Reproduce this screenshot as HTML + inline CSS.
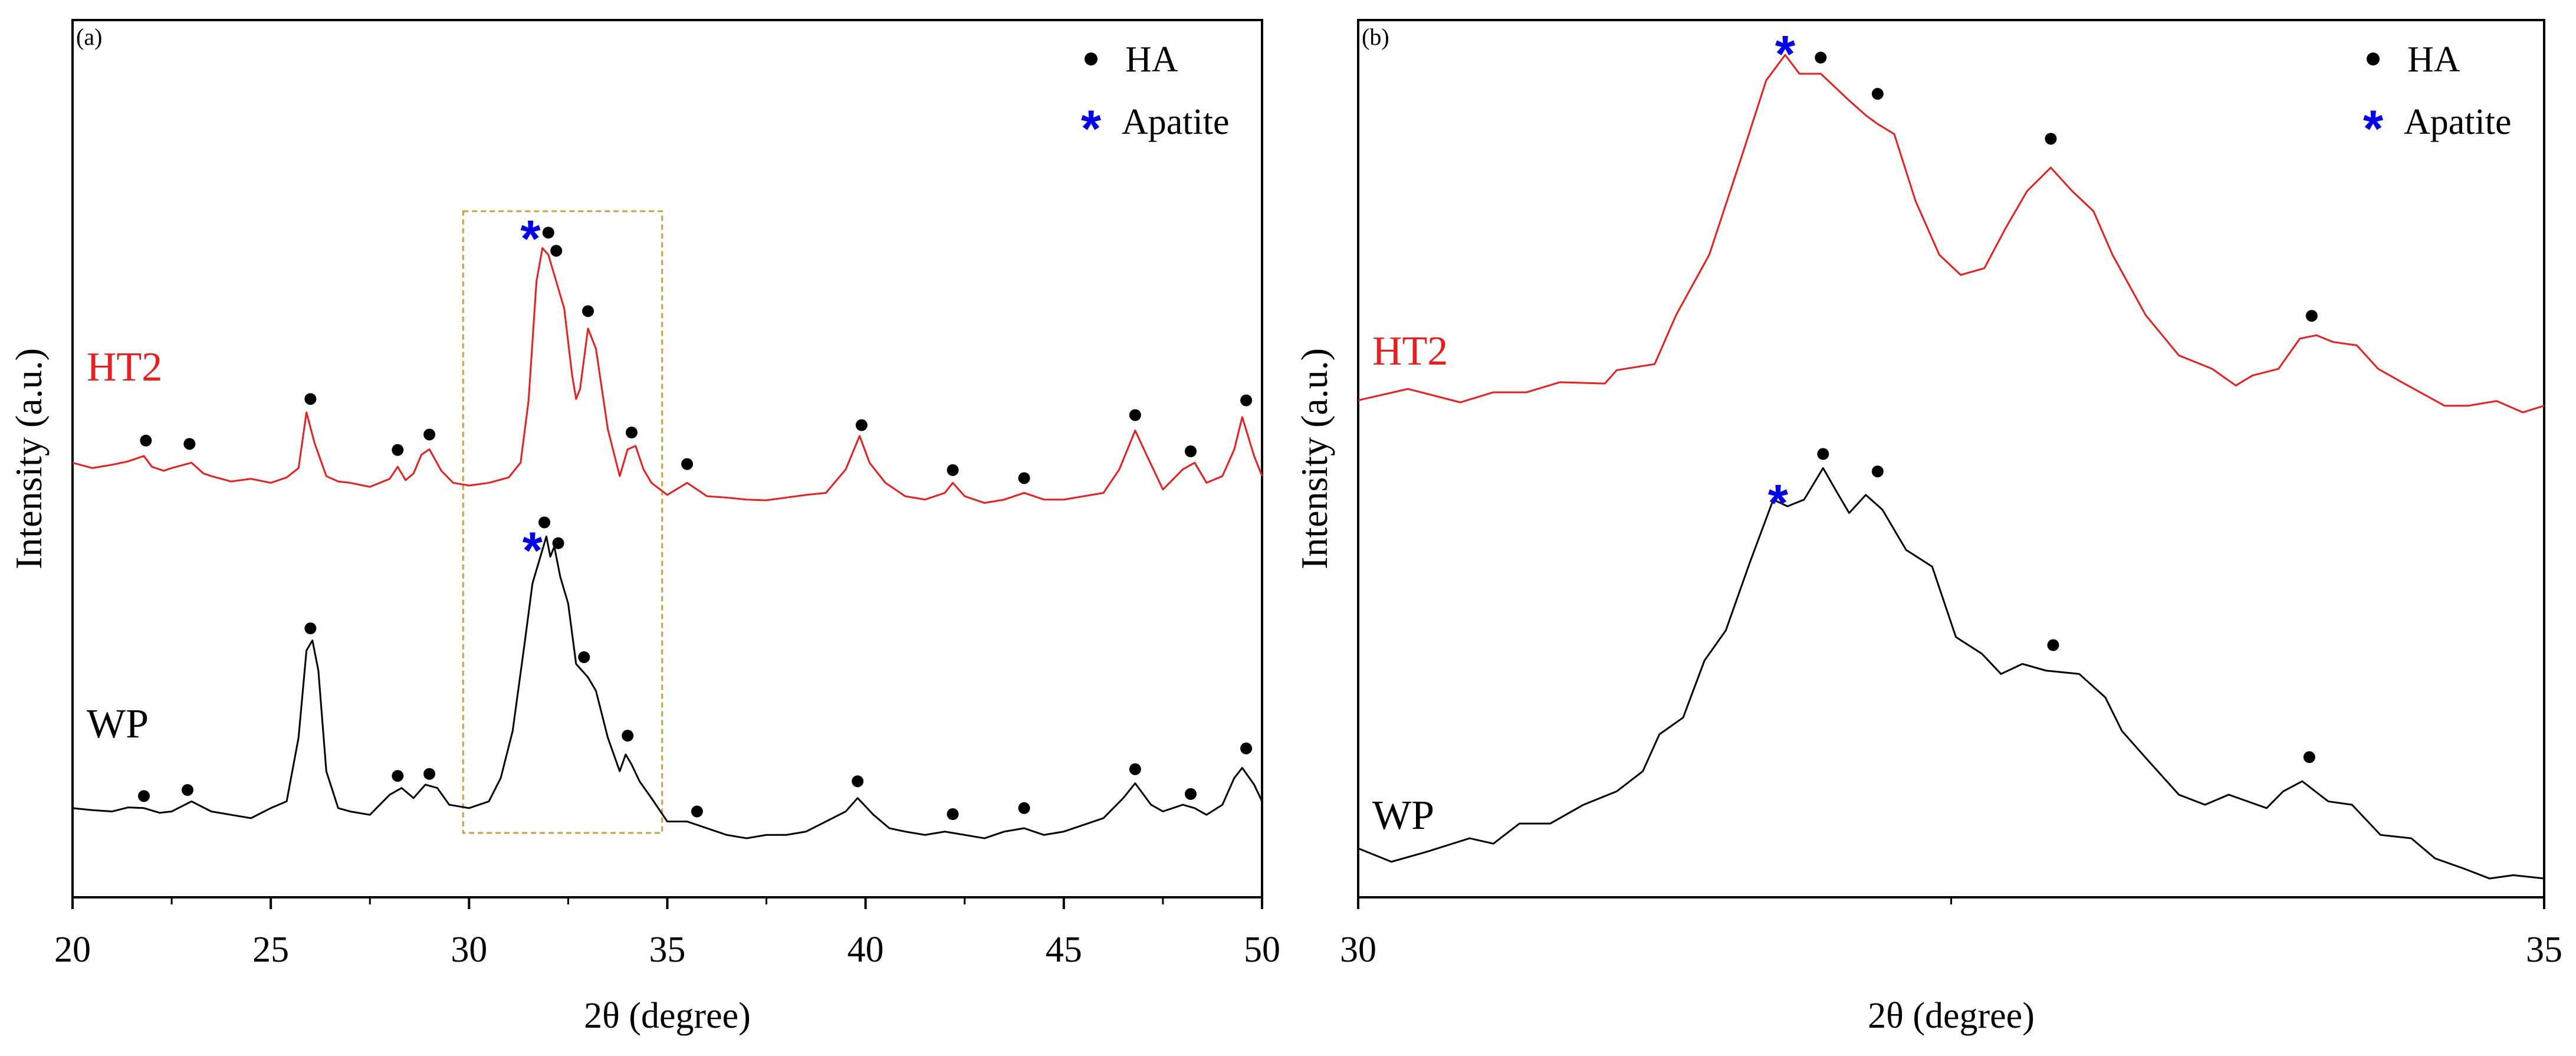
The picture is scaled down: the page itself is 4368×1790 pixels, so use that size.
<!DOCTYPE html>
<html><head><meta charset="utf-8"><style>
html,body{margin:0;padding:0;background:#fff;}
svg{display:block;font-family:"Liberation Serif",serif;}
</style></head><body>
<svg id="chart" width="4368" height="1790" viewBox="0 0 4368 1790" xmlns="http://www.w3.org/2000/svg"></svg>
<script>
// ---- Panel (a) data: 2theta (deg) and intensity (a.u.)
const aHT2x=[20,20.5,21,21.4,21.8,22,22.3,22.5,23,23.3,23.5,24,24.5,25,25.4,25.7,25.9,26.1,26.4,26.7,27,27.5,28,28.2,28.4,28.6,28.8,29,29.3,29.6,30,30.5,31,31.3,31.5,31.7,31.85,32,32.2,32.4,32.6,32.7,32.8,33,33.2,33.5,33.8,34,34.2,34.4,34.6,35,35.5,36,36.5,37,37.5,38,38.5,39,39.5,39.85,40.1,40.5,41,41.5,42,42.2,42.5,43,43.5,44,44.5,45,45.5,46,46.4,46.8,47.1,47.5,48,48.3,48.6,49,49.3,49.5,49.8,50];
const aHT2y=[648,640,645,650,658,642,636,640,648,632,628,620,624,618,626,640,723,678,628,620,618,612,624,642,622,632,660,668,636,618,614,618,626,648,740,918,968,958,918,878,778,743,758,848,818,698,628,668,673,638,618,600,618,598,596,593,592,596,600,603,638,688,648,618,598,593,603,618,598,588,593,603,593,593,598,603,638,696,658,608,638,648,618,628,668,716,658,628];
const aWPx=[20,20.5,21,21.4,21.8,22.2,22.5,23,23.5,24,24.5,25,25.4,25.7,25.9,26.05,26.2,26.4,26.7,27,27.5,28,28.3,28.6,28.9,29.2,29.5,30,30.5,30.8,31.1,31.4,31.6,31.8,31.95,32.05,32.15,32.3,32.5,32.7,33,33.2,33.5,33.8,33.95,34.1,34.3,34.6,35,35.5,36,36.5,37,37.5,38,38.5,39,39.5,39.8,40.2,40.6,41,41.5,42,42.5,43,43.5,44,44.5,45,45.5,46,46.5,46.8,47.2,47.5,48,48.3,48.6,49,49.3,49.5,49.8,50];
const aWPy=[133,130,128,134,133,126,128,143,128,123,118,133,143,238,368,383,338,188,133,128,123,153,163,148,168,163,138,133,143,178,248,378,468,508,538,508,523,478,438,348,328,308,238,188,213,198,173,148,113,113,103,93,88,93,93,98,113,128,148,123,103,98,93,98,93,88,98,103,93,98,108,118,148,170,138,128,138,133,123,138,178,193,168,143];
const aHAx_ht=[21.85,22.95,26.0,28.2,29.0,32.0,32.2,33.0,34.1,35.5,39.9,42.2,44.0,46.8,48.2,49.6];
const aHAy_ht=[681,676,743,667,690,991,964,874,693,646,704,637,625,719,665,741];
const aApx_ht=[31.55], aApy_ht=[991];
const aHAx_wp=[21.8,22.9,26.0,28.2,29.0,31.9,32.25,32.9,34.0,35.75,39.8,42.2,44.0,46.8,48.2,49.6];
const aHAy_wp=[151,160,401,181,184,559,528,358,241,128,173,124,133,191,154,222];
const aApx_wp=[31.6], aApy_wp=[526];
// ---- Panel (b) data
const bHT2x=[30,30.21,30.43,30.57,30.71,30.85,31.04,31.09,31.25,31.34,31.48,31.62,31.72,31.8,31.86,31.95,32.07,32.14,32.19,32.26,32.35,32.45,32.54,32.64,32.73,32.82,32.92,33.01,33.1,33.18,33.32,33.46,33.6,33.7,33.77,33.88,33.97,34.04,34.11,34.21,34.3,34.4,34.58,34.68,34.8,34.91,35];
const bHT2y=[741,758,738,753,753,768,766,786,795,868,958,1108,1218,1256,1228,1228,1188,1166,1153,1138,1038,958,928,938,998,1053,1088,1053,1023,958,868,808,788,763,778,788,833,838,828,823,788,768,733,733,740,723,733];
const bWPx=[30,30.14,30.29,30.47,30.57,30.68,30.81,30.95,31.09,31.2,31.27,31.37,31.46,31.55,31.65,31.75,31.81,31.88,31.96,32.02,32.07,32.14,32.21,32.31,32.42,32.52,32.63,32.71,32.8,32.9,33.04,33.15,33.22,33.32,33.46,33.57,33.67,33.83,33.9,33.98,34.09,34.19,34.31,34.44,34.54,34.66,34.77,34.87,35];
const bWPy=[73,53,68,88,80,110,110,138,158,188,243,268,353,398,498,593,583,593,640,603,573,600,578,518,493,388,363,333,348,338,333,298,248,208,153,138,153,133,158,173,143,138,93,88,58,43,28,33,28];
const bHAx_ht=[31.95,32.19,32.92,34.02], bHAy_ht=[1252,1198,1131,867];
const bApx_ht=[31.8], bApy_ht=[1266];
const bHAx_wp=[31.96,32.19,32.93,34.01], bHAy_wp=[661,635,376,209];
const bApx_wp=[31.77], bApy_wp=[597];
const aTicks=[20,25,30,35,40,45,50], aMinor=[22.5,27.5,32.5,37.5,42.5,47.5];
const bTicks=[30,35], bMinor=[32.5];

const svg=document.getElementById('chart');
const NS='http://www.w3.org/2000/svg';
function mk(tag,attrs,parent){const e=document.createElementNS(NS,tag);for(const k in attrs)e.setAttribute(k,attrs[k]);(parent||svg).appendChild(e);return e;}
const TOP=34,BOT=1521,IMAX=1308;
function panel(id,x0,x1,xmin,xmax,d){
  const g=mk('g',{});
  
  
  const X=v=>x0+(v-xmin)/(xmax-xmin)*(x1-x0);
  const Y=v=>BOT-v*(BOT-TOP)/IMAX;
  const frame=mk('rect',{x:x0,y:TOP,width:x1-x0,height:BOT-TOP,fill:'none',stroke:'#000','stroke-width':4},g);
  
  
  if(d.box){const b=mk('rect',{x:X(d.box[0]),y:Y(d.box[3]),width:X(d.box[1])-X(d.box[0]),height:Y(d.box[2])-Y(d.box[3]),fill:'none',stroke:'#c8a040','stroke-width':3,'stroke-dasharray':'9,6'},g);
    
    }
  d.ticks.forEach(t=>{const l=mk('line',{x1:X(t),x2:X(t),y1:BOT,y2:BOT+20,stroke:'#000','stroke-width':4},g);
    
    
    const tx=mk('text',{x:X(t),y:1630,'font-size':62,'text-anchor':'middle',fill:'#000'},g);tx.textContent=t;
    
    });
  d.minor.forEach(t=>{const l=mk('line',{x1:X(t),x2:X(t),y1:BOT,y2:BOT+12,stroke:'#000','stroke-width':3},g);
    
    });
  function line(xs,ys,col,name){const p=mk('polyline',{points:xs.map((v,i)=>X(v)+','+Y(ys[i])).join(' '),fill:'none',stroke:col,'stroke-width':3,'stroke-linejoin':'round'},g);
    
    }
  line(d.htx,d.hty,'#ee1c1c','ht2-series-line');
  line(d.wpx,d.wpy,'#000','wp-series-line');
  function dots(xs,ys){xs.forEach((v,i)=>{const c=mk('circle',{cx:X(v),cy:Y(ys[i]),r:10,fill:'#000'},g);
    
    });}
  function stars(xs,ys){xs.forEach((v,i)=>{const t=mk('text',{x:X(v),y:Y(ys[i])+40,'font-size':88,'font-weight':'bold','text-anchor':'middle',fill:'#0000ee','font-family':'Liberation Sans,sans-serif'},g);t.textContent='*';
    
    });}
  dots(d.hax1,d.hay1);dots(d.hax2,d.hay2);stars(d.apx1,d.apy1);stars(d.apx2,d.apy2);
  const lab=mk('text',{x:x0+6,y:TOP+42,'font-size':40,fill:'#000'},g);lab.textContent='('+id+')';
  
  
  const lx=x1-290;
  const ld=mk('circle',{cx:lx,cy:100,r:11,fill:'#000'},g);
  
  
  const lt=mk('text',{x:lx+58,y:121,'font-size':62,fill:'#000'},g);lt.textContent='HA';
  
  
  const ls=mk('text',{x:lx,y:248,'font-size':88,'font-weight':'bold','text-anchor':'middle',fill:'#0000ee','font-family':'Liberation Sans,sans-serif'},g);ls.textContent='*';
  
  
  const la=mk('text',{x:lx+52,y:227,'font-size':62,fill:'#000'},g);la.textContent='Apatite';
  
  
  const h=mk('text',{x:x0+24,y:d.htLabY,'font-size':70,fill:'#ee1c1c'},g);h.textContent='HT2';
  
  
  const w=mk('text',{x:x0+24,y:d.wpLabY,'font-size':70,fill:'#000'},g);w.textContent='WP';
  
  
  const xl=mk('text',{x:(x0+x1)/2,y:1742,'font-size':62,'text-anchor':'middle',fill:'#000'},g);xl.textContent='2θ (degree)';
  
  
  const cy=(TOP+BOT)/2;
  const yl=mk('text',{x:d.ylx,y:cy,'font-size':64,'text-anchor':'middle',fill:'#000',transform:'rotate(-90 '+d.ylx+' '+cy+')'},g);yl.textContent='Intensity (a.u.)';
  
  
}
panel('a',123,2140,20,50,{box:[29.85,34.87,96,1023],ticks:aTicks,minor:aMinor,htx:aHT2x,hty:aHT2y,wpx:aWPx,wpy:aWPy,
  hax1:aHAx_ht,hay1:aHAy_ht,hax2:aHAx_wp,hay2:aHAy_wp,apx1:aApx_ht,apy1:aApy_ht,apx2:aApx_wp,apy2:aApy_wp,htLabY:645,wpLabY:1250,ylx:70});
panel('b',2303,4314,30,35,{ticks:bTicks,minor:bMinor,htx:bHT2x,hty:bHT2y,wpx:bWPx,wpy:bWPy,
  hax1:bHAx_ht,hay1:bHAy_ht,hax2:bHAx_wp,hay2:bHAy_wp,apx1:bApx_ht,apy1:bApy_ht,apx2:bApx_wp,apy2:bApy_wp,htLabY:618,wpLabY:1405,ylx:2250});
</script>
</body></html>
